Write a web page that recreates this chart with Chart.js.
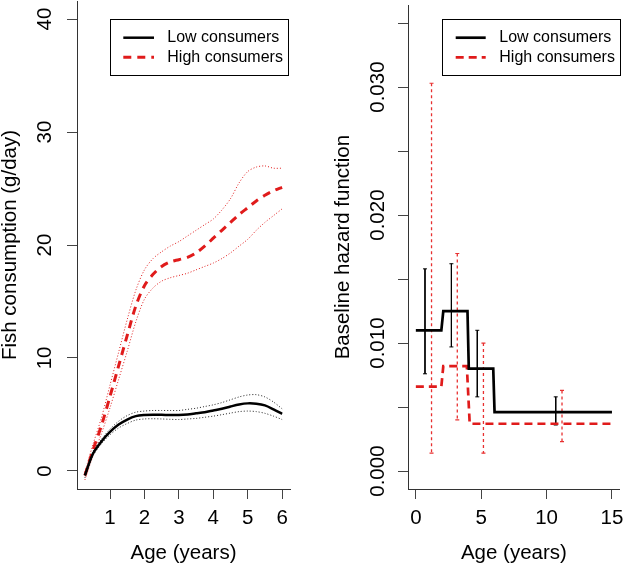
<!DOCTYPE html>
<html><head><meta charset="utf-8">
<script src="https://cdn.jsdelivr.net/npm/chart.js@4.4.0/dist/chart.umd.min.js"></script>
<style>
html,body{margin:0;padding:0;background:#fff;}
#wrap{position:relative;width:625px;height:566px;overflow:hidden;background:#fff;}
#c1{position:absolute;left:0;top:0;}
#c2{position:absolute;left:312px;top:0;}
</style></head><body>
<div id="wrap"><canvas id="c1" width="312" height="566"></canvas><canvas id="c2" width="313" height="566"></canvas></div>
<script>
// ---------- Left panel data: fish consumption (g/day) by age ----------
const ages = [0.27,0.5,0.75,1,1.25,1.5,1.75,2,2.25,2.5,2.75,3,3.25,3.5,3.75,4,4.25,4.5,4.75,5,5.25,5.5,5.75,6];
const lowMean  = [-0.4,1.5,2.6,3.45,4.1,4.55,4.85,4.95,4.98,4.97,4.95,4.95,5.0,5.1,5.2,5.35,5.5,5.7,5.88,5.98,5.95,5.8,5.45,5.05];
const lowUpper = [-0.2,1.7,2.8,3.7,4.4,4.9,5.2,5.3,5.35,5.35,5.35,5.35,5.45,5.55,5.7,5.85,6.05,6.3,6.55,6.72,6.75,6.55,6.1,5.5];
const lowLower = [-0.6,1.3,2.4,3.2,3.8,4.2,4.5,4.6,4.62,4.6,4.57,4.55,4.6,4.65,4.75,4.85,4.98,5.12,5.25,5.3,5.25,5.1,4.85,4.55];
const highMean  = [-0.4,1.8,4.0,6.6,9.3,12.0,14.6,16.4,17.4,18.1,18.5,18.7,18.9,19.3,19.9,20.6,21.3,22.0,22.7,23.3,23.9,24.4,24.8,25.1];
const highUpper = [-0.1,2.3,4.7,7.6,10.5,13.4,16.0,17.8,18.8,19.4,19.9,20.3,20.8,21.3,21.8,22.3,23.1,24.1,25.5,26.5,26.9,27.0,26.8,26.8];
const highLower = [-0.8,1.3,3.3,5.6,8.1,10.6,13.2,15.2,16.2,16.8,17.1,17.3,17.5,17.8,18.1,18.4,18.8,19.3,19.9,20.5,21.3,22.0,22.6,23.2];
const leftXTicks = [1,2,3,4,5,6];
const leftYTicks = [0,10,20,30,40];

// ---------- Right panel data: baseline hazard function by age ----------
const stepAgesLow = [0,1.95,2.1,3.95,4.05,5.92,6.02,15];
const hazardLow   = [0.011,0.011,0.0125,0.0125,0.008,0.008,0.0046,0.0046];
const stepAgesHigh = [0,1.95,2.1,3.9,4.12,15];
const hazardHigh   = [0.0066,0.0066,0.0082,0.0082,0.0037,0.0037];
const errLowX      = [0.7,2.72,4.7,10.7];
const errLowTop    = [0.0158,0.0162,0.0110,0.0058];
const errLowBottom = [0.0076,0.0097,0.0058,0.0036];
const errHighX      = [1.2,3.17,5.17,11.18];
const errHighTop    = [0.0303,0.0170,0.0100,0.0063];
const errHighBottom = [0.0014,0.0040,0.0014,0.0023];
const rightXTicks = [0,5,10,15];
const rightYTicks = [0,0.005,0.01,0.015,0.02,0.025,0.03,0.035];
const rightYLabelled = [0,0.01,0.02,0.03];

const legendLabels = ['Low consumers','High consumers'];

// ---------- helpers ----------
const pts = (xs, ys) => xs.map((x, i) => ({x: x, y: ys[i]}));
const bars = (xs, tops, bottoms) => {
  const out = [];
  xs.forEach((x, i) => { out.push({x: x, y: tops[i]}); out.push({x: x, y: bottoms[i]}); out.push({x: x, y: null}); });
  return out;
};

const RED = '#e01b1b';
const FONT = "'Liberation Sans', Arial, Helvetica, sans-serif";
Chart.defaults.font.family = FONT;
Chart.defaults.color = '#000';

const legendPlugin = {
  id: 'boxLegend',
  afterDraw(chart, args, opts) {
    const ctx = chart.ctx;
    ctx.save();
    ctx.strokeStyle = '#000';
    ctx.lineWidth = 1;
    ctx.setLineDash([]);
    ctx.strokeRect(opts.x + 0.5, opts.y + 0.5, opts.w, opts.h);
    ctx.font = opts.fontSize + 'px ' + FONT;
    ctx.textBaseline = 'middle';
    ctx.textAlign = 'left';
    legendLabels.forEach((lab, i) => {
      const ds = chart.data.datasets[opts.items[i]];
      const y = opts.y + opts.rows[i];
      ctx.strokeStyle = ds.borderColor;
      ctx.lineWidth = ds.borderWidth;
      ctx.setLineDash(ds.borderDash || []);
      ctx.beginPath();
      ctx.moveTo(opts.x + opts.lineX0, y);
      ctx.lineTo(opts.x + opts.lineX1, y);
      ctx.stroke();
      ctx.setLineDash([]);
      ctx.fillStyle = '#000';
      ctx.fillText(lab, opts.x + opts.textX, y);
    });
    ctx.restore();
  }
};

function axisX(min, max, tickVals, title) {
  return {
    type: 'linear', min: min, max: max,
    afterBuildTicks: s => { s.ticks = tickVals.map(v => ({value: v})); },
    afterFit: s => { s.height = 77; s.paddingLeft = 0; s.paddingRight = 0; },
    ticks: { font: {size: 20.5}, color: '#000', padding: 7, maxRotation: 0, minRotation: 0, autoSkip: false,
             callback: v => String(v) },
    grid: { drawOnChartArea: false, drawTicks: true, tickLength: 10, color: '#444', lineWidth: 1 },
    border: { display: true, color: '#333', width: 1 },
    title: { display: true, text: title, font: {size: 20.5, lineHeight: 1.2}, color: '#000', padding: {top: 0, bottom: 0} }
  };
}
function axisY(min, max, tickVals, title, labelFn, pad) {
  return {
    type: 'linear', min: min, max: max,
    afterBuildTicks: s => { s.ticks = tickVals.map(v => ({value: v})); },
    afterFit: s => { s.width = pad.width; s.paddingTop = 0; s.paddingBottom = 0; },
    ticks: { font: {size: 20.5}, color: '#000', padding: pad.tick, minRotation: 90, maxRotation: 90,
             crossAlign: 'center', autoSkip: false, callback: labelFn },
    grid: { drawOnChartArea: false, drawTicks: true, tickLength: 10, color: '#444', lineWidth: 1 },
    border: { display: true, color: '#333', width: 1 },
    title: { display: true, text: title, font: {size: 20.5, lineHeight: 1.2}, color: '#000', padding: {top: pad.title, bottom: 0} }
  };
}

// ---------- Left chart ----------
new Chart(document.getElementById('c1'), {
  type: 'line',
  data: {
    datasets: [
      { label: 'Low consumers', data: pts(ages, lowMean), borderColor: '#000', borderWidth: 2.5, tension: 0.3 },
      { label: 'High consumers', data: pts(ages, highMean), borderColor: RED, borderWidth: 3, borderDash: [8, 6], tension: 0.3 },
      { label: 'Low upper', data: pts(ages, lowUpper), borderColor: '#222', borderWidth: 1, borderDash: [1, 2], tension: 0.3 },
      { label: 'Low lower', data: pts(ages, lowLower), borderColor: '#222', borderWidth: 1, borderDash: [1, 2], tension: 0.3 },
      { label: 'High upper', data: pts(ages, highUpper), borderColor: RED, borderWidth: 1, borderDash: [1, 2], tension: 0.3 },
      { label: 'High lower', data: pts(ages, highLower), borderColor: RED, borderWidth: 1, borderDash: [1, 2], tension: 0.3 }
    ]
  },
  options: {
    responsive: false, animation: false, devicePixelRatio: 1,
    layout: { padding: { left: 0, top: 1, right: 22, bottom: 0 } },
    elements: { point: { radius: 0 }, line: { fill: false } },
    plugins: {
      legend: { display: false }, tooltip: { enabled: false },
      boxLegend: { x: 110, y: 19, w: 178, h: 56, rows: [18.7, 38.3], lineX0: 13.3, lineX1: 44, textX: 57.3, fontSize: 16, items: [0, 1] }
    },
    scales: {
      x: axisX(0.041, 6.229, leftXTicks, 'Age (years)'),
      y: axisY(-1.6, 41.6, leftYTicks, 'Fish consumption (g/day)', v => String(v), {width: 77, tick: 9.9, title: -2.3})
    }
  },
  plugins: [legendPlugin]
});

// ---------- Right chart ----------
new Chart(document.getElementById('c2'), {
  type: 'line',
  data: {
    datasets: [
      { label: 'Low consumers', data: pts(stepAgesLow, hazardLow), borderColor: '#000', borderWidth: 2.7, tension: 0 },
      { label: 'High consumers', data: pts(stepAgesHigh, hazardHigh), borderColor: RED, borderWidth: 2.7, borderDash: [8, 5], tension: 0 },
      { label: 'Low CI', data: bars(errLowX, errLowTop, errLowBottom), borderColor: '#000', borderWidth: 1, tension: 0,
        pointStyle: 'line', pointRadius: 2, pointBorderColor: '#000', pointBorderWidth: 1 },
      { label: 'High CI', data: bars(errHighX, errHighTop, errHighBottom), borderColor: '#e83030', borderWidth: 1.3, borderDash: [3, 3], tension: 0,
        pointStyle: 'line', pointRadius: 2, pointBorderColor: '#e83030', pointBorderWidth: 1.2 }
    ]
  },
  options: {
    responsive: false, animation: false, devicePixelRatio: 1, spanGaps: false,
    layout: { padding: { left: 0, top: 1, right: 3, bottom: 0 } },
    elements: { point: { radius: 0 }, line: { fill: false } },
    plugins: {
      legend: { display: false }, tooltip: { enabled: false },
      boxLegend: { x: 130, y: 19, w: 178, h: 56, rows: [18.7, 38.3], lineX0: 13.7, lineX1: 43.7, textX: 57.3, fontSize: 16, items: [0, 1] }
    },
    scales: {
      x: axisX(-0.6, 15.6, rightXTicks, 'Age (years)'),
      y: axisY(-0.0014, 0.0364, rightYTicks, 'Baseline hazard function',
               v => rightYLabelled.some(t => Math.abs(t - v) < 1e-9) ? v.toFixed(3) : '',
               {width: 96, tick: -5.6, title: 18.7})
    }
  },
  plugins: [legendPlugin]
});
</script>
</body></html>
